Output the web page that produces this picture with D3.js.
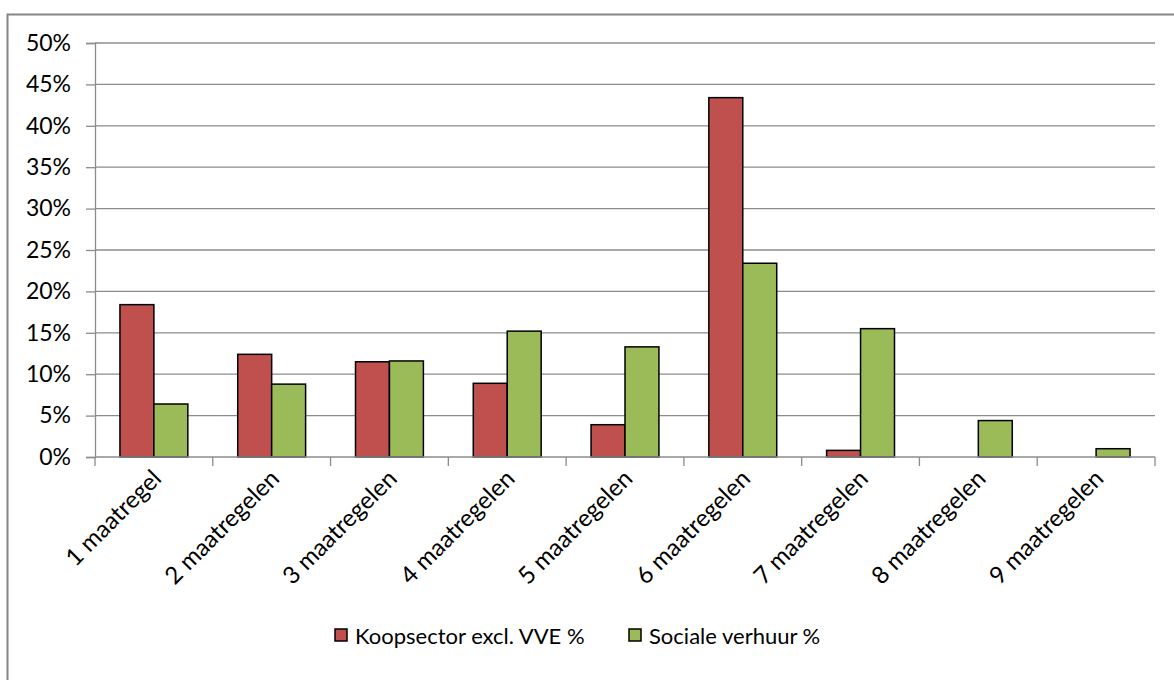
<!DOCTYPE html>
<html lang="nl">
<head>
<meta charset="UTF-8">
<title>Maatregelen</title>
<script src="https://cdn.jsdelivr.net/npm/d3@7"></script>
<style>
  body { margin: 0; background: #fff; }
  text { font-family: Lato, "Open Sans", sans-serif; fill: #000; }
</style>
</head>
<body>
<svg id="chart" width="1174" height="680"></svg>
<script>
// data
var categories = ['1 maatregel', '2 maatregelen', '3 maatregelen', '4 maatregelen', '5 maatregelen',
                  '6 maatregelen', '7 maatregelen', '8 maatregelen', '9 maatregelen'];
var seriesNames = ['Koopsector excl. VVE %', 'Sociale verhuur %'];
var koopsector = [18.4, 12.4, 11.5, 8.9, 3.9, 43.4, 0.8, 0, 0];
var socialeVerhuur = [6.4, 8.8, 11.6, 15.2, 13.3, 23.4, 15.5, 4.4, 1.0];
var yTicks = [0, 5, 10, 15, 20, 25, 30, 35, 40, 45, 50];
var colors = ['#c0504d', '#9bbb59'];

var svg = d3.select('#chart');
var plotL = 95, plotR = 1155, plotT = 43, plotB = 457;

// outer chart border (only left/top visible in the frame)
svg.append('rect')
    .attr('x', 7.5).attr('y', 14.5)
    .attr('width', 1200).attr('height', 700)
    .attr('fill', 'none')
    .attr('stroke', '#868686')
    .attr('stroke-width', 2);

var x0 = d3.scaleBand().domain(categories).range([plotL, plotR]).padding(0);
var barW = x0.bandwidth() / (2 + 1.47);
var x1 = d3.scaleBand().domain([0, 1]).range([0, barW * 2]);
var y = d3.scaleLinear().domain([0, 50]).range([plotB, plotT]);

// gridlines
svg.append('g').selectAll('line')
    .data(yTicks.slice(1))
    .join('line')
    .attr('x1', plotL).attr('x2', plotR)
    .attr('y1', d => y(d)).attr('y2', d => y(d))
    .attr('stroke', '#8c8c8c')
    .attr('stroke-width', 1.3);

// y axis
var yAxis = svg.append('g')
    .attr('transform', 'translate(' + plotL + ',0)')
    .call(d3.axisLeft(y).tickValues(yTicks).tickSize(9).tickPadding(15).tickFormat(d => d + '%'));
yAxis.select('.domain').attr('stroke', '#8c8c8c').attr('stroke-width', 1.3);
yAxis.selectAll('.tick line').attr('stroke', '#8c8c8c').attr('stroke-width', 1.3);
yAxis.selectAll('.tick text').style('font-size', '23px').style('font-family', 'Lato, sans-serif');

// bars
var rows = categories.map((c, i) => ({cat: c, vals: [koopsector[i], socialeVerhuur[i]]}));
var offset = (x0.bandwidth() - barW * 2) / 2;
var groups = svg.append('g').selectAll('g')
    .data(rows)
    .join('g')
    .attr('transform', d => 'translate(' + (x0(d.cat) + offset) + ',0)');
groups.selectAll('rect')
    .data(d => d.vals.map((v, k) => ({k: k, v: v})).filter(e => e.v > 0))
    .join('rect')
    .attr('x', d => x1(d.k))
    .attr('y', d => y(d.v))
    .attr('width', barW)
    .attr('height', d => plotB - y(d.v))
    .attr('fill', d => colors[d.k])
    .attr('stroke', '#000')
    .attr('stroke-width', 1.5);

// x axis
var xTickPos = categories.map(c => x0(c)).concat([plotR]);
var xAxis = svg.append('g');
xAxis.append('line')
    .attr('x1', plotL).attr('x2', plotR)
    .attr('y1', plotB).attr('y2', plotB)
    .attr('stroke', '#8c8c8c').attr('stroke-width', 1.3);
xAxis.selectAll('line.tk')
    .data(xTickPos)
    .join('line')
    .attr('class', 'tk')
    .attr('x1', d => d).attr('x2', d => d)
    .attr('y1', plotB).attr('y2', plotB + 9)
    .attr('stroke', '#8c8c8c').attr('stroke-width', 1.3);
xAxis.selectAll('text')
    .data(categories)
    .join('text')
    .attr('transform', d => 'translate(' + (x0(d) + x0.bandwidth() / 2 + 3) + ',' + (plotB + 17) + ') rotate(-45)')
    .attr('text-anchor', 'end')
    .attr('dy', '0.35em')
    .style('font-size', '24px')
    .text(d => d);

// legend
var legend = svg.append('g');
var legendX = [335, 629];
seriesNames.forEach(function (name, k) {
    legend.append('rect')
        .attr('x', legendX[k]).attr('y', 629)
        .attr('width', 12).attr('height', 12)
        .attr('fill', colors[k])
        .attr('stroke', '#000').attr('stroke-width', 1.5);
    legend.append('text')
        .attr('x', legendX[k] + 20).attr('y', 636)
        .attr('dy', '0.35em')
        .style('font-size', '22px')
        .text(name);
});
</script>
</body>
</html>
